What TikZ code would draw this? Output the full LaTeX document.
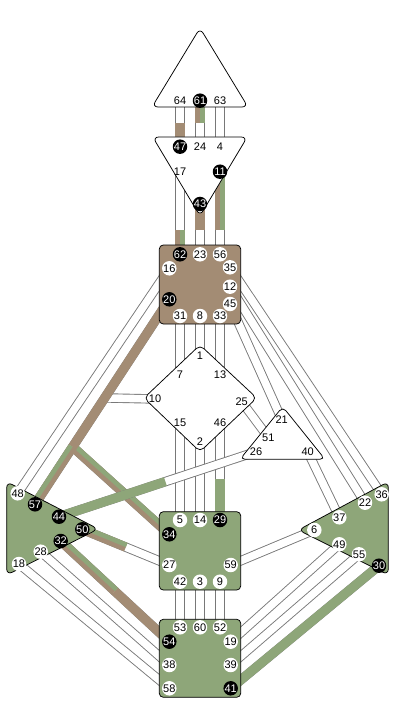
\documentclass[tikz,border=0pt]{standalone}
\usepackage{fontspec}
\setmainfont{Liberation Sans}
\usetikzlibrary{calc}
\definecolor{dbrown}{RGB}{163,140,116}
\definecolor{dgreen}{RGB}{142,166,121}
\definecolor{chgray}{RGB}{120,120,120}
\newcommand\Chan[2]{\draw[chb] (#1)--(#2);\draw[chw] (#1)--(#2);}
\newcommand\SegS[4]{\draw[colb] (#1)--(#2);\draw[colgh] ($(#1)!2.3pt!#3:(#2)$)--($(#2)!2.3pt!#4:(#1)$);}
\begin{document}
\begin{tikzpicture}[x=1pt,y=-1pt,
 chb/.style={line width=9.4pt, draw=chgray},
 chw/.style={line width=7.6pt, draw=white},
 colb/.style={line width=9.2pt, draw=dbrown},
 colg/.style={line width=9.2pt, draw=dgreen},
 colgh/.style={line width=4.6pt, draw=dgreen},
 cen/.style={draw=black, line width=0.75pt, rounded corners=4pt},
 gw/.style={circle, inner sep=0pt, minimum size=14.5pt, fill=white, font=\fontsize{11}{12}\selectfont},
 gb/.style={gw, fill=black, text=white},
 gt/.style={gw, fill=none}]
\useasboundingbox (0,0) rectangle (400,711);
\fill[white] (0,0) rectangle (400,711);
% gate coordinates
\coordinate (g64) at (180,100.7); \coordinate (g61) at (200,100.7); \coordinate (g63) at (220,100.7);
\coordinate (g47) at (180,146.7); \coordinate (g24) at (200,146.7); \coordinate (g4) at (220,146.7);
\coordinate (g17) at (180,171.7); \coordinate (g11) at (220,171.7); \coordinate (g43) at (200,204);
\coordinate (g62) at (180,254.3); \coordinate (g23) at (200,254.3); \coordinate (g56) at (220,254.3);
\coordinate (g16) at (169.3,268.3); \coordinate (g35) at (230,267.3); \coordinate (g12) at (230,286.7);
\coordinate (g20) at (169.3,299.3); \coordinate (g45) at (230,304);
\coordinate (g31) at (180,316); \coordinate (g8) at (200,316); \coordinate (g33) at (220,316);
\coordinate (g1) at (200,355.7); \coordinate (g7) at (180,375); \coordinate (g13) at (220,375);
\coordinate (g10) at (155,399); \coordinate (g25) at (241.7,401.7);
\coordinate (g15) at (180,422.7); \coordinate (g46) at (220,422.7); \coordinate (g2) at (200,441.7);
\coordinate (g21) at (281.7,419.3); \coordinate (g51) at (268.3,437.3); \coordinate (g26) at (256,451.7); \coordinate (g40) at (307.7,451.7);
\coordinate (g48) at (17.7,493.3); \coordinate (g57) at (35,504.3); \coordinate (g44) at (59,516.7); \coordinate (g50) at (82.3,529.3);
\coordinate (g32) at (60.7,541); \coordinate (g28) at (40.7,551.7); \coordinate (g18) at (19,564);
\coordinate (g5) at (180,520); \coordinate (g14) at (200,520); \coordinate (g29) at (220,520);
\coordinate (g34) at (169.3,534.3); \coordinate (g27) at (169.3,565); \coordinate (g59) at (230.7,565);
\coordinate (g42) at (180,581.7); \coordinate (g3) at (200,581.7); \coordinate (g9) at (220,581.7);
\coordinate (g36) at (381.7,494.3); \coordinate (g22) at (365,502.7); \coordinate (g37) at (339.3,517.3); \coordinate (g6) at (314.3,530);
\coordinate (g49) at (339.3,544.3); \coordinate (g55) at (359,554.3); \coordinate (g30) at (379,565.7);
\coordinate (g53) at (180,627.3); \coordinate (g60) at (200,627.3); \coordinate (g52) at (220,627.3);
\coordinate (g54) at (169.3,641.7); \coordinate (g19) at (230.7,641.7);
\coordinate (g38) at (169.3,665); \coordinate (g39) at (230.7,665);
\coordinate (g58) at (169.3,688.3); \coordinate (g41) at (230.7,688.3);
% junctions and split points
\coordinate (J10) at ($(g20)!0.481!(g57)$);
\coordinate (J34) at ($(g20)!0.72!(g57)$);
\coordinate (s47) at (180,123); \coordinate (s61) at (200,123);
\coordinate (s62) at (180,230); \coordinate (s43) at (200,230); \coordinate (s11) at (220,230);
\coordinate (s29) at (220,479);
\coordinate (s50) at ($(g50)!0.5!(g27)$);
\coordinate (s32) at ($(g32)!0.5!(g54)$);
\coordinate (s44) at ($(g44)!0.54!(g26)$);
% channel strips
\Chan{g64}{g47} \Chan{g61}{g24} \Chan{g63}{g4}
\Chan{g17}{g62} \Chan{g43}{g23} \Chan{g11}{g56}
\Chan{g31}{g7} \Chan{g8}{g1} \Chan{g33}{g13}
\Chan{g15}{g5} \Chan{g2}{g14} \Chan{g46}{g29}
\Chan{g42}{g53} \Chan{g3}{g60} \Chan{g9}{g52}
\Chan{g16}{g48}
\Chan{g10}{J10}
\Chan{g34}{J34}
\Chan{g20}{g57}
\Chan{g45}{g21} \Chan{g35}{g36} \Chan{g12}{g22}
\Chan{g25}{g51} \Chan{g40}{g37}
\Chan{g27}{g50} \Chan{g59}{g6}
\Chan{g54}{g32} \Chan{g28}{g38} \Chan{g18}{g58}
\Chan{g19}{g49} \Chan{g39}{g55} \Chan{g41}{g30}
% activations
\draw[colb] (g47)--(s47);
\SegS{g61}{s61}{90}{-90}
\draw[colb] (g43)--(s43);
\SegS{g11}{s11}{90}{-90}
\SegS{g62}{s62}{-90}{90}
\SegS{g34}{J34}{-90}{90}
\draw[colb] (g20)--(J34);
\SegS{g57}{J34}{90}{-90}
\draw[colg] (g29)--(s29);
\SegS{g50}{s50}{90}{-90}
\SegS{g32}{s32}{90}{-90}
\draw[colb] (g54)--(s32);
\draw[colg] (g41)--(g30);
\Chan{g26}{g44}
\draw[colg] (g44)--(s44);
% centres
\draw[cen, fill=white, rounded corners=6pt] (200,28)--(248,107)--(152,107)--cycle;
\draw[cen, fill=white, rounded corners=6pt] (152.7,137)--(247.3,137)--(200,216)--cycle;
\draw[cen, fill=dbrown] (159.3,245) rectangle (240.7,324);
\draw[cen, fill=white, rounded corners=5pt] (200,345)--(256.7,398)--(200,451.7)--(144,398)--cycle;
\draw[cen, fill=white, rounded corners=5pt] (282.7,406.7)--(325,459.3)--(240,459.3)--cycle;
\draw[cen, fill=dgreen, rounded corners=6pt] (6.7,481.7)--(98.3,529)--(6.7,575)--cycle;
\draw[cen, fill=dgreen] (159.3,511.7) rectangle (240.7,590);
\draw[cen, fill=dgreen, rounded corners=6pt] (388.3,481.7)--(388.3,575)--(298.3,530)--cycle;
\draw[cen, fill=dgreen] (159.3,619.3) rectangle (240.7,697.3);
% gates
\node[gt] (n64) at (g64) {64}; \node[gb] (n61) at (g61) {61}; \node[gt] (n63) at (g63) {63};
\node[gb] (n47) at (g47) {47}; \node[gt] (n24) at (g24) {24}; \node[gt] (n4) at (g4) {4};
\node[gt] (n17) at (g17) {17}; \node[gb] (n11) at (g11) {11}; \node[gb] (n43) at (g43) {43};
\node[gb] (n62) at (g62) {62}; \node[gw] (n23) at (g23) {23}; \node[gw] (n56) at (g56) {56};
\node[gw] (n16) at (g16) {16}; \node[gw] (n35) at (g35) {35}; \node[gw] (n12) at (g12) {12};
\node[gb] (n20) at (g20) {20}; \node[gw] (n45) at (g45) {45};
\node[gw] (n31) at (g31) {31}; \node[gw] (n8) at (g8) {8}; \node[gw] (n33) at (g33) {33};
\node[gt] (n1) at (g1) {1}; \node[gt] (n7) at (g7) {7}; \node[gt] (n13) at (g13) {13};
\node[gt] (n10) at (g10) {10}; \node[gt] (n25) at (g25) {25};
\node[gt] (n15) at (g15) {15}; \node[gt] (n46) at (g46) {46}; \node[gt] (n2) at (g2) {2};
\node[gt] (n21) at (g21) {21}; \node[gt] (n51) at (g51) {51}; \node[gt] (n26) at (g26) {26}; \node[gt] (n40) at (g40) {40};
\node[gw] (n48) at (g48) {48}; \node[gb] (n57) at (g57) {57}; \node[gb] (n44) at (g44) {44}; \node[gb] (n50) at (g50) {50};
\node[gb] (n32) at (g32) {32}; \node[gw] (n28) at (g28) {28}; \node[gw] (n18) at (g18) {18};
\node[gw] (n5) at (g5) {5}; \node[gw] (n14) at (g14) {14}; \node[gb] (n29) at (g29) {29};
\node[gb] (n34) at (g34) {34}; \node[gw] (n27) at (g27) {27}; \node[gw] (n59) at (g59) {59};
\node[gw] (n42) at (g42) {42}; \node[gw] (n3) at (g3) {3}; \node[gw] (n9) at (g9) {9};
\node[gw] (n36) at (g36) {36}; \node[gw] (n22) at (g22) {22}; \node[gw] (n37) at (g37) {37}; \node[gw] (n6) at (g6) {6};
\node[gw] (n49) at (g49) {49}; \node[gw] (n55) at (g55) {55}; \node[gb] (n30) at (g30) {30};
\node[gw] (n53) at (g53) {53}; \node[gw] (n60) at (g60) {60}; \node[gw] (n52) at (g52) {52};
\node[gb] (n54) at (g54) {54}; \node[gw] (n19) at (g19) {19};
\node[gw] (n38) at (g38) {38}; \node[gw] (n39) at (g39) {39};
\node[gw] (n58) at (g58) {58}; \node[gb] (n41) at (g41) {41};
\end{tikzpicture}
\end{document}
